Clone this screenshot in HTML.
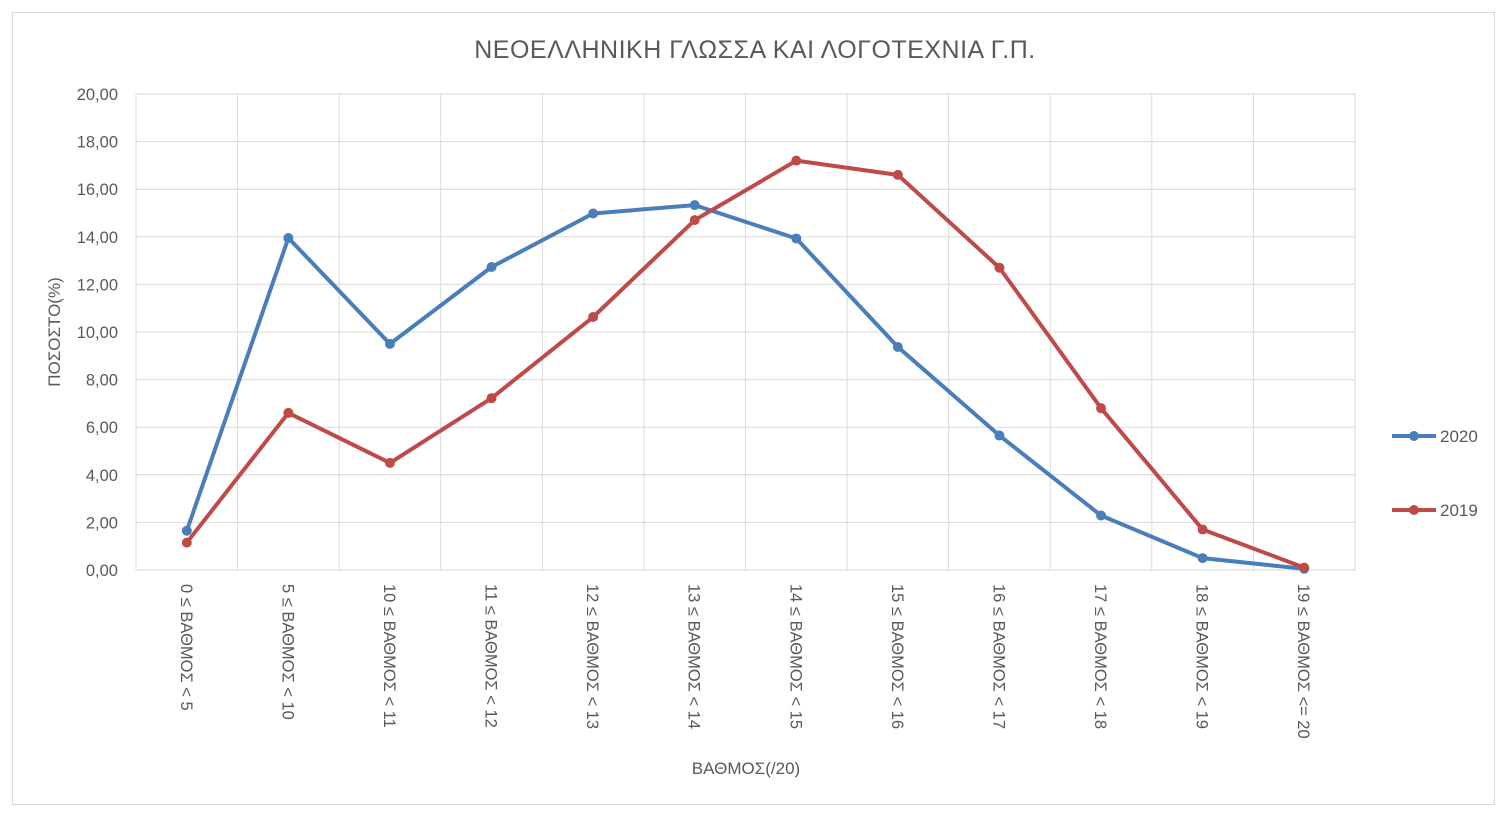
<!DOCTYPE html>
<html><head><meta charset="utf-8"><style>
body{margin:0;background:#fff;}
svg{display:block;font-family:"Liberation Sans","DejaVu Sans",sans-serif;}
</style></head><body>
<svg id="chart" width="1507" height="815">
<rect x="12.5" y="12.5" width="1482" height="792" fill="#fff" stroke="#d9d9d9"/>
<text x="755" y="58" font-size="25" letter-spacing="0.5" fill="#595959" text-anchor="middle">ΝΕΟΕΛΛΗΝΙΚΗ ΓΛΩΣΣΑ ΚΑΙ ΛΟΓΟΤΕΧΝΙΑ Γ.Π.</text>
<g id="grid"></g><g id="yticks"></g><g id="xticks"></g><g id="series"></g>
<text x="746" y="774" font-size="17" fill="#595959" text-anchor="middle">ΒΑΘΜΟΣ(/20)</text>
<text transform="translate(60,332) rotate(-90)" font-size="17" fill="#595959" text-anchor="middle">ΠΟΣΟΣΤΟ(%)</text>
<g>
<g><line x1="1392" y1="436" x2="1436" y2="436" stroke="#4a7ebb" stroke-width="4"/><circle cx="1414" cy="436" r="5" fill="#4a7ebb"/><text x="1440" y="442" font-size="17" fill="#595959">2020</text></g>
<g><line x1="1392" y1="510" x2="1436" y2="510" stroke="#be4b48" stroke-width="4"/><circle cx="1414" cy="510" r="5" fill="#be4b48"/><text x="1440" y="516" font-size="17" fill="#595959">2019</text></g>
</g>
</svg>
<script>
const categories=["0 ≤ ΒΑΘΜΟΣ < 5","5 ≤ ΒΑΘΜΟΣ < 10","10 ≤ ΒΑΘΜΟΣ < 11","11 ≤ ΒΑΘΜΟΣ < 12","12 ≤ ΒΑΘΜΟΣ < 13","13 ≤ ΒΑΘΜΟΣ < 14","14 ≤ ΒΑΘΜΟΣ < 15","15 ≤ ΒΑΘΜΟΣ < 16","16 ≤ ΒΑΘΜΟΣ < 17","17 ≤ ΒΑΘΜΟΣ < 18","18 ≤ ΒΑΘΜΟΣ < 19","19 ≤ ΒΑΘΜΟΣ <= 20"];
const values2020=[1.65,13.95,9.5,12.73,14.98,15.33,13.93,9.37,5.65,2.29,0.5,0.05];
const values2019=[1.15,6.6,4.5,7.22,10.63,14.7,17.2,16.6,12.7,6.8,1.7,0.1];
const yTicks=["0,00","2,00","4,00","6,00","8,00","10,00","12,00","14,00","16,00","18,00","20,00"];
const NS="http://www.w3.org/2000/svg";
const L=136,R=1355,T=94,B=570,yMax=20;
const bw=(R-L)/categories.length;
const x=i=>L+bw*(i+0.5);
const y=v=>B-(v/yMax)*(B-T);
function mk(tag,attrs,parent){const e=document.createElementNS(NS,tag);for(const k in attrs)e.setAttribute(k,attrs[k]);parent.appendChild(e);return e;}
const grid=document.getElementById('grid'),yt=document.getElementById('yticks'),xt=document.getElementById('xticks'),ser=document.getElementById('series');
yTicks.forEach((t,i)=>{const v=i*2;
 const ln=mk('line',{x1:L,x2:R,y1:y(v),y2:y(v),stroke:'#d9d9d9','stroke-width':1},grid);
 
 
 const tx=mk('text',{x:L-18,y:y(v)+6,'font-size':16.5,fill:'#595959','text-anchor':'end'},yt);tx.textContent=t;
 
 
});
for(let i=0;i<=categories.length;i++){
 const ln=mk('line',{x1:L+bw*i,x2:L+bw*i,y1:T,y2:B,stroke:'#d9d9d9','stroke-width':1},grid);
 
 
}
categories.forEach((c,i)=>{
 const tx=mk('text',{transform:`translate(${x(i)-6},584) rotate(90)`,'font-size':16.5,fill:'#595959'},xt);tx.textContent=c;
 
 
});
function drawSeries(vals,color,name){
 const g=mk('g',{},ser);
 
 
 const p=mk('polyline',{points:vals.map((v,i)=>x(i)+','+y(v)).join(' '),fill:'none',stroke:color,'stroke-width':4,'stroke-linejoin':'round'},g);
 
 
 vals.forEach((v,i)=>{const c=mk('circle',{cx:x(i),cy:y(v),r:5,fill:color},g);
  
  });
}
drawSeries(values2020,'#4a7ebb','series-2020');
drawSeries(values2019,'#be4b48','series-2019');
</script>
</body></html>
